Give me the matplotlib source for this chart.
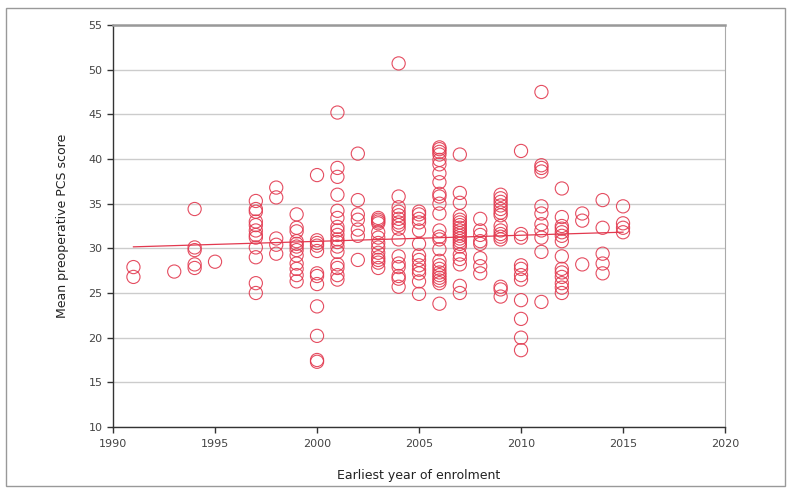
import matplotlib.pyplot as plt
import numpy as np
from matplotlib.patches import Rectangle

# === DATA: mean preoperative PCS score per study, grouped by earliest year of enrolment ===
scores_by_year = {
    1991: [27.9, 26.8],
    1993: [27.4],
    1994: [34.4, 30.1, 29.8, 28.2, 27.8],
    1995: [28.5],
    1997: [35.3, 34.4, 34.1, 33.0, 32.6, 32.0, 31.5, 31.2, 30.1, 29.0, 26.1, 25.0],
    1998: [36.8, 35.7, 31.1, 30.4, 29.4],
    1999: [33.8, 32.3, 31.9, 30.8, 30.5, 30.2, 29.8, 29.2, 28.3, 27.7, 27.0, 26.3],
    2000: [38.2, 30.9, 30.6, 30.3, 29.7, 27.2, 26.9, 26.0, 23.5, 20.2, 17.5, 17.3],
    2001: [45.2, 39.0, 38.0, 36.0, 34.2, 33.4, 32.4, 32.0, 31.5, 31.0, 30.7, 30.2,
           29.6, 28.2, 27.8, 27.0, 26.5],
    2002: [40.6, 35.4, 33.8, 33.2, 32.1, 31.4, 28.7],
    2003: [33.4, 33.2, 33.0, 32.8, 31.8, 31.2, 30.6, 30.1, 29.5, 29.0, 28.7, 28.4, 27.8],
    2004: [50.7, 35.8, 34.6, 34.1, 33.7, 33.3, 32.9, 32.6, 32.2, 31.0, 29.1, 28.3,
           27.9, 26.9, 26.6, 25.7],
    2005: [34.1, 33.8, 33.3, 32.9, 32.0, 30.5, 29.2, 28.7, 28.1, 27.6, 27.2, 26.3, 24.9],
    2006: [41.3, 41.1, 40.8, 40.5, 39.9, 39.4, 38.4, 37.4, 36.1, 35.8, 35.0, 33.9,
           32.0, 31.3, 31.0, 29.9, 28.6, 28.1, 27.7, 27.3, 27.0, 26.7, 26.4, 26.1, 23.8],
    2007: [40.5, 36.2, 35.1, 33.6, 33.2, 32.9, 32.6, 32.3, 32.0, 31.7, 31.4, 31.1,
           30.8, 30.5, 30.2, 29.3, 28.8, 28.2, 25.8, 25.0],
    2008: [33.3, 32.0, 31.5, 30.8, 30.5, 28.9, 28.0, 27.2],
    2009: [36.0, 35.6, 35.2, 34.8, 34.4, 34.0, 33.7, 32.5, 32.0, 31.6, 31.3, 31.0,
           25.7, 25.4, 24.6],
    2010: [40.9, 31.6, 31.2, 28.1, 27.7, 27.0, 26.5, 24.2, 22.1, 20.0, 18.6],
    2011: [47.5, 39.3, 39.0, 38.6, 34.7, 33.9, 32.7, 32.0, 31.2, 29.6, 24.0],
    2012: [36.7, 33.5, 32.5, 32.2, 31.8, 31.4, 30.8, 29.1, 27.7, 27.3, 26.8, 26.1,
           25.6, 25.0],
    2013: [33.9, 33.1, 28.2],
    2014: [35.4, 32.3, 29.4, 28.3, 27.2],
    2015: [34.7, 32.8, 32.3, 31.8],
}

x_ticks = [1990, 1995, 2000, 2005, 2010, 2015, 2020]
y_ticks = [10, 15, 20, 25, 30, 35, 40, 45, 50, 55]

years = []
scores = []
for yr, vals in scores_by_year.items():
    years += [yr] * len(vals)
    scores += vals
years = np.array(years, dtype=float)
scores = np.array(scores)

red = '#e2394f'

# === PLOT ===
fig = plt.figure(figsize=(7.91, 4.93), dpi=100)
ax = fig.add_axes([0.1429, 0.1339, 0.7737, 0.8154])

ax.scatter(years, scores, s=90, facecolors='none', edgecolors=red, linewidths=0.8,
           alpha=0.9, zorder=3)

# linear trend
slope, intercept = np.polyfit(years, scores, 1)
xl = np.array([years.min(), years.max()])
ax.plot(xl, slope * xl + intercept, color=red, linewidth=0.9, zorder=2)

ax.set_xlim(1990, 2020)
ax.set_ylim(10, 55)
ax.set_xticks(x_ticks)
ax.set_yticks(y_ticks)
ax.yaxis.grid(True, color='#cccccc', linewidth=1.0)
ax.set_axisbelow(True)

for side in ['left', 'bottom']:
    ax.spines[side].set_color('#333333')
    ax.spines[side].set_linewidth(1.0)
ax.spines['right'].set_color('#aaaaaa')
ax.spines['top'].set_color('#999999')
ax.spines['top'].set_linewidth(1.8)

ax.tick_params(axis='both', length=4, width=1, color='#333333', labelsize=8, labelcolor='#444444')
ax.tick_params(axis='x', pad=5)

ax.set_xlabel('Earliest year of enrolment', fontsize=9, color='#222222', labelpad=14)
ax.set_ylabel('Mean preoperative PCS score', fontsize=9, color='#222222', labelpad=14)

# outer frame
fig.patches.append(Rectangle((0.008, 0.014), 0.984, 0.97, transform=fig.transFigure,
                             fill=False, edgecolor='#999999', linewidth=1.0))

fig.savefig('out.png', dpi=100, facecolor='white')
